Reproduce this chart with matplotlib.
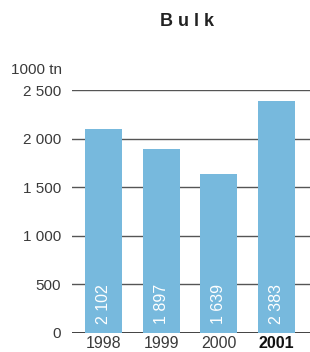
import matplotlib.pyplot as plt
import numpy as np

plt.rcParams['font.family'] = ['Liberation Sans', 'DejaVu Sans']

# data
years = ["1998", "1999", "2000", "2001"]
values = [2102, 1897, 1639, 2383]
value_labels = ["2 102", "1 897", "1 639", "2 383"]
yticks = [0, 500, 1000, 1500, 2000, 2500]
ytick_labels = ["0", "500", "1 000", "1 500", "2 000", "2 500"]

bar_color = "#77b9dd"
text_color = "#3a3a3a"

fig = plt.figure(figsize=(3.1, 3.52), dpi=100)
ax = fig.add_axes([0.232, 0.054, 0.768, 0.69])

x = np.arange(len(years))
ax.bar(x, values, width=0.64, color=bar_color, zorder=2)

# gridlines
for t in yticks:
    ax.axhline(t, color="#555555" if t else "#333333", lw=1.0 if t else 1.3, zorder=1)

for xi, lab in zip(x, value_labels):
    ax.text(xi, 90, lab, rotation=90, ha="center", va="bottom", color="white",
            fontsize=11.5, zorder=3)

ax.set_xlim(-0.55, 3.58)
ax.set_ylim(0, 2500)
for s in ax.spines.values():
    s.set_visible(False)
ax.set_yticks(yticks)
ax.set_yticklabels(ytick_labels, fontsize=11, color=text_color)
ax.set_xticks(x)
ax.set_xticklabels(years, fontsize=11.5, color=text_color)
ax.get_xticklabels()[-1].set_fontweight("bold")
ax.get_xticklabels()[-1].set_color("#111111")
ax.tick_params(length=0, pad=8)
ax.tick_params(axis="x", pad=2)

fig.text(62 / 310, 1 - 70 / 352, "1000 tn", ha="right", va="center",
         fontsize=11, color=text_color)
fig.text(187 / 310, 1 - 21 / 352, "B u l k", ha="center", va="center",
         fontsize=13, fontweight="bold", color="#222222")

fig.savefig("out.png", dpi=100)
